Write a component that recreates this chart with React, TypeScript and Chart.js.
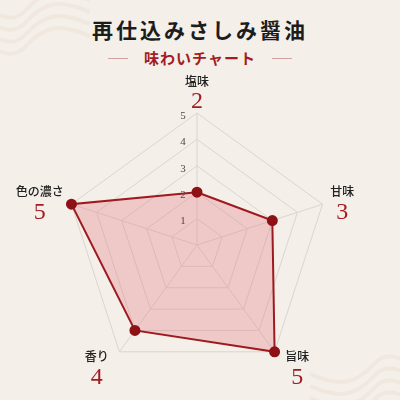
import { useEffect, useRef } from 'react';
import { Chart, registerables } from 'chart.js';

Chart.register(...registerables);

const AXES = ['塩味', '甘味', '旨味', '香り', '色の濃さ'];
const SCORES = [2, 3, 5, 4, 5];
const TICKS = [1, 2, 3, 4, 5];

const RED = '#a31c24';
const SERIF = '"Liberation Serif", "DejaVu Serif", serif';
const JP = '"Noto Sans CJK JP", "Noto Sans", sans-serif';

// axis name + big red score, placed just outside each spoke of the radial scale
const labelPlugin = {
  id: 'scoreLabels',
  afterDraw(chart: any) {
    const scale = chart.scales.r;
    const ctx = chart.ctx;
    const R = scale.drawingArea;
    ctx.save();
    ctx.textAlign = 'center';
    ctx.textBaseline = 'middle';
    AXES.forEach((name, i) => {
      ctx.font = `500 12px ${JP}`;
      const hw = ctx.measureText(name).width / 2;
      const a = scale.getIndexAngle(i);
      const s = Math.sin(a);
      const pad = 2 + 20 * Math.abs(Math.cos(a));
      const p = scale.getPointPosition(i, R + pad);
      // like chart.js point labels: left/right aligned on the sides, centred at top
      const x = Math.abs(s) > 0.1 ? p.x + Math.sign(s) * hw : p.x;
      ctx.fillStyle = '#222';
      ctx.fillText(name, x, p.y - 10);
      ctx.font = `24px ${SERIF}`;
      ctx.fillStyle = RED;
      ctx.fillText(String(SCORES[i]), x, p.y + 11);
    });
    // tick numbers sit to the left of the vertical spoke
    ctx.font = `11px ${SERIF}`;
    ctx.fillStyle = '#4a4a4a';
    TICKS.forEach((v) => {
      const p = scale.getPointPositionForValue(0, v);
      ctx.fillText(String(v), p.x - 14, p.y + 3);
    });
    ctx.restore();
  },
};

function Waves({ style }: { style: React.CSSProperties }) {
  return (
    <svg width="120" height="100" viewBox="0 0 120 100" style={{ position: 'absolute', ...style }}>
      {[0, 12, 24, 36].map((o) => (
        <path
          key={o}
          d={`M0 ${30 + o} C 18 ${12 + o}, 36 ${46 + o}, 56 ${24 + o} S 92 ${2 + o}, 120 ${14 + o}`}
          fill="none"
          stroke="#ebe1d3"
          strokeWidth="4"
          opacity="0.45"
        />
      ))}
    </svg>
  );
}

export default function App() {
  const canvasRef = useRef<HTMLCanvasElement>(null);

  useEffect(() => {
    document.body.style.margin = '0';
    if (!canvasRef.current) return;
    const chart = new Chart(canvasRef.current, {
      type: 'radar',
      data: {
        labels: AXES,
        datasets: [
          {
            data: SCORES,
            backgroundColor: 'rgba(226, 120, 130, 0.32)',
            borderColor: '#9e1a1f',
            borderWidth: 2,
            pointBackgroundColor: '#8e1116',
            pointBorderColor: '#8e1116',
            pointRadius: 4.5,
          },
        ],
      },
      options: {
        animation: false,
        responsive: true,
        maintainAspectRatio: false,
        layout: { padding: { top: 45, bottom: 21, left: 65, right: 71 } },
        plugins: { legend: { display: false }, tooltip: { enabled: false } },
        scales: {
          r: {
            min: 0,
            max: 5,
            ticks: { stepSize: 1, display: false },
            grid: { color: '#d9d5d0', lineWidth: 1 },
            angleLines: { color: '#d9d5d0', lineWidth: 1 },
            pointLabels: { display: false },
          },
        },
      },
      plugins: [labelPlugin],
    });
    return () => chart.destroy();
  }, []);

  return (
    <div
      style={{
        position: 'fixed',
        left: 0,
        top: 0,
        width: 400,
        height: 400,
        overflow: 'hidden',
        background: '#f4efe9',
      }}
    >
      <Waves style={{ left: -30, top: -14 }} />
      <Waves style={{ right: -30, bottom: -24, transform: 'rotate(180deg)' }} />
      <div
        style={{
          position: 'absolute',
          top: 14,
          width: 400,
          textAlign: 'center',
          fontFamily: JP,
          fontWeight: 700,
          fontSize: 21,
          letterSpacing: 3,
          color: '#1c1c1c',
          lineHeight: '30px',
        }}
      >
        再仕込みさしみ醤油
      </div>
      <div
        style={{
          position: 'absolute',
          top: 47,
          width: 400,
          display: 'flex',
          justifyContent: 'center',
          alignItems: 'center',
          gap: 16,
          fontFamily: JP,
          fontWeight: 700,
          fontSize: 15,
          letterSpacing: 1,
          color: RED,
          lineHeight: '22px',
        }}
      >
        <span style={{ width: 20, height: 1, background: '#d6a0a0' }} />
        <span>味わいチャート</span>
        <span style={{ width: 20, height: 1, background: '#d6a0a0' }} />
      </div>
      <div style={{ position: 'absolute', left: 0, top: 68, width: 400, height: 330 }}>
        <canvas ref={canvasRef} />
      </div>
    </div>
  );
}
